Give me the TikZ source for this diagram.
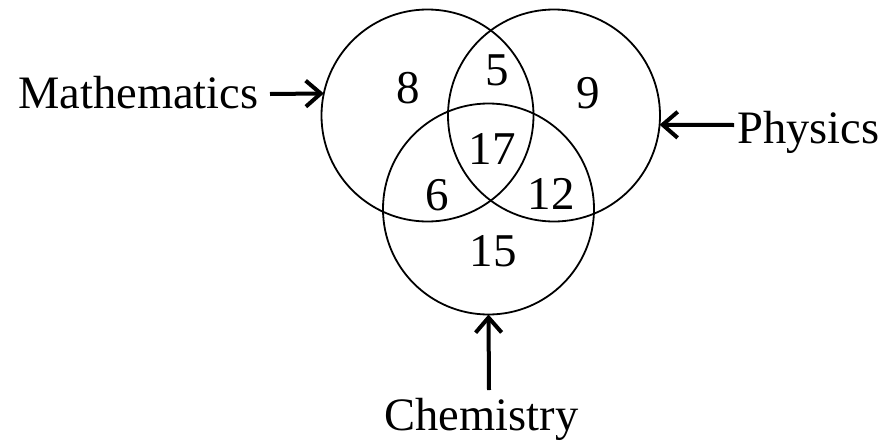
\documentclass[tikz,border=0pt]{standalone}
\usepackage{fontspec}
\setmainfont{Liberation Serif}
\usetikzlibrary{arrows.meta}
\begin{document}
\begin{tikzpicture}[x=1pt,y=-1pt,
  set/.style={circle,draw=black,line width=1.8pt,minimum size=212pt,inner sep=0pt,outer sep=0pt},
  num/.style={inner sep=0pt,font=\fontsize{47}{56}\selectfont},
  lab/.style={inner sep=0pt,font=\fontsize{46.5}{56}\selectfont},
  arr/.style={line width=4pt,-{Straight Barb[length=15pt,width=26pt,line width=4pt]}}]
\useasboundingbox (0,0) rectangle (889,445);
\node[set] (M) at (427.5,115.5) {};
\node[set] (P) at (554,115.5) {};
\node[set,minimum size=211pt] (C) at (488.5,209) {};
\node[num] (n8) at (408,88) {8};
\node[num] (n5) at (497,70) {5};
\node[num] (n9) at (588,93) {9};
\node[num] (n17) at (492,149) {17};
\node[num] (n6) at (437,195) {6};
\node[num] (n12) at (551,194) {12};
\node[num] (n15) at (493,251) {15};
\node[lab,anchor=base west] (ml) at (18,108) {Mathematics};
\node[lab,anchor=base west] (pl) at (737,143) {Physics};
\node[lab,anchor=base] (cl) at (481.5,430) {Chemistry};
\coordinate (ma) at (270,94);
\coordinate (pa) at (734,125);
\coordinate (ca) at (489,390);
\draw[arr] (ma) -- (M.168);
\draw[arr] (pa) -- (P.-5);
\draw[arr] (ca) -- (C.south);
\end{tikzpicture}
\end{document}
